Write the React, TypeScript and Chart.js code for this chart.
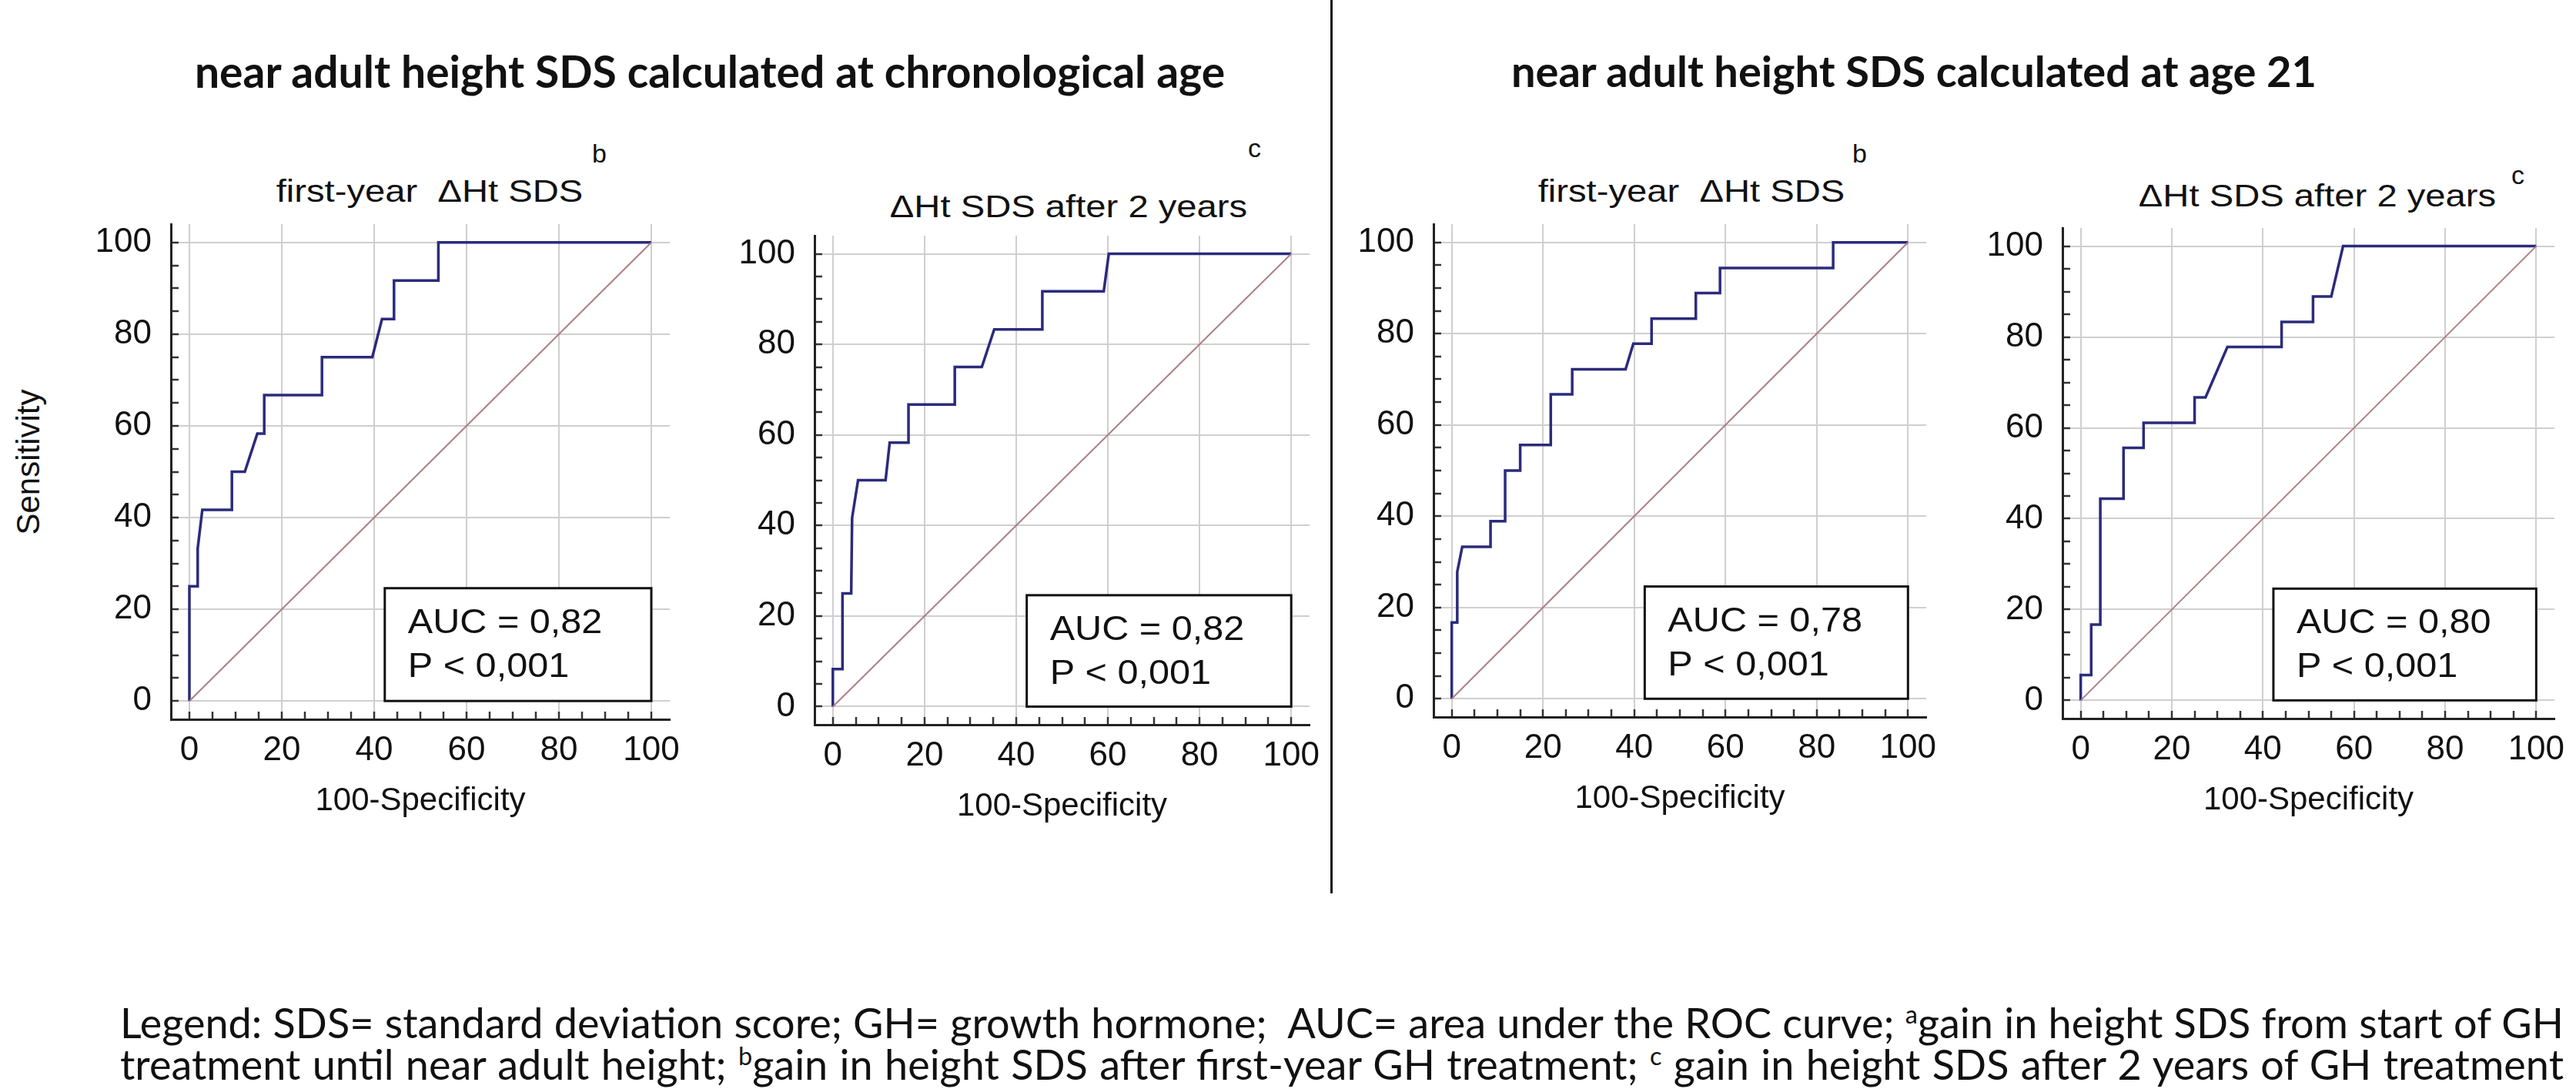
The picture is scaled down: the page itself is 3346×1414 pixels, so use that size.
import { useEffect, useRef } from "react";
import { Chart, registerables } from "chart.js";

Chart.register(...registerables);

// chance (diagonal) line
const chanceFpr = [0, 100];
const chanceTpr = [0, 100];

// near adult height SDS at chronological age - first-year ΔHt SDS
const chronoYear1Fpr = [0, 0, 1.8, 1.8, 2.8, 9.2, 9.2, 12, 14.7, 16.2, 16.2, 28.7, 28.7, 39.6, 41.7, 44.3, 44.3, 53.9, 53.9, 100];
const chronoYear1Tpr = [0, 25, 25, 33.3, 41.7, 41.7, 50, 50, 58.3, 58.3, 66.7, 66.7, 75, 75, 83.3, 83.3, 91.7, 91.7, 100, 100];

// near adult height SDS at chronological age - ΔHt SDS after 2 years
const chronoYear2Fpr = [0, 0, 2.1, 2.1, 4, 4.2, 5.5, 11.5, 12.4, 16.5, 16.5, 26.6, 26.6, 32.5, 35.2, 45.7, 45.7, 59.1, 60.2, 100];
const chronoYear2Tpr = [0, 8.3, 8.3, 25, 25, 41.7, 50, 50, 58.3, 58.3, 66.7, 66.7, 75, 75, 83.3, 83.3, 91.7, 91.7, 100, 100];

// near adult height SDS at age 21 - first-year ΔHt SDS
const age21Year1Fpr = [0, 0, 1.2, 1.2, 2.3, 8.5, 8.5, 11.7, 11.7, 15, 15, 21.7, 21.7, 26.4, 26.4, 38.1, 39.8, 43.8, 43.8, 53.5, 53.5, 58.8, 58.8, 83.6, 83.6, 100];
const age21Year1Tpr = [0, 16.7, 16.7, 27.8, 33.3, 33.3, 38.9, 38.9, 50, 50, 55.6, 55.6, 66.7, 66.7, 72.2, 72.2, 77.8, 77.8, 83.3, 83.3, 88.9, 88.9, 94.4, 94.4, 100, 100];

// near adult height SDS at age 21 - ΔHt SDS after 2 years
const age21Year2Fpr = [0, 0, 2.3, 2.3, 4.3, 4.3, 9.4, 9.4, 13.8, 13.8, 25, 25, 27.4, 32.2, 44.1, 44.1, 51, 51, 55, 57.6, 100];
const age21Year2Tpr = [0, 5.6, 5.6, 16.7, 16.7, 44.4, 44.4, 55.6, 55.6, 61.1, 61.1, 66.7, 66.7, 77.8, 77.8, 83.3, 83.3, 88.9, 88.9, 100, 100];

const aucTexts = ["AUC = 0,82", "AUC = 0,82", "AUC = 0,78", "AUC = 0,80"];
const pTexts = ["P < 0,001", "P < 0,001", "P < 0,001", "P < 0,001"];

const headings = ["near adult height SDS calculated at chronological age", "near adult height SDS calculated at age 21"];
const subtitles = ["first-year  ΔHt SDS", "ΔHt SDS after 2 years", "first-year  ΔHt SDS", "ΔHt SDS after 2 years"];
const subtitleMarks = ["b", "c", "b", "c"];
const xTitle = "100-Specificity";
const yTitle = "Sensitivity";

const CHART_FONT = "'Liberation Sans', Arial, sans-serif";
const TEXT_FONT = "Lato, 'Open Sans', sans-serif";

// layout of each panel (pixel position of x=0 / y=100 and px per unit)
const panels = [
  { fpr: chronoYear1Fpr, tpr: chronoYear1Tpr, x0: 246, y100: 315, ux: 6.0, uy: 5.95 },
  { fpr: chronoYear2Fpr, tpr: chronoYear2Tpr, x0: 1082, y100: 330, ux: 5.95, uy: 5.88 },
  { fpr: age21Year1Fpr, tpr: age21Year1Tpr, x0: 1886, y100: 315, ux: 5.93, uy: 5.93 },
  { fpr: age21Year2Fpr, tpr: age21Year2Tpr, x0: 2703, y100: 320, ux: 5.92, uy: 5.9 },
];

const YW = 130;
const TOPPAD = 14;
const RIGHTPAD = 25;
const XH = 132;

const toPoints = (xs: number[], ys: number[]) => xs.map((x, i) => ({ x, y: ys[i] }));

const axisCommon = (size: number) => ({
  type: "linear" as const,
  min: -4,
  max: 104,
  ticks: {
    stepSize: 5,
    includeBounds: false,
    autoSkip: false,
    maxRotation: 0,
    minRotation: 0,
    color: "#111",
    font: { family: CHART_FONT, size },
    callback: (v: any) => (Number(v) % 20 === 0 ? String(v) : ""),
  },
  grid: {
    color: (c: any) => (c.tick && c.tick.value % 20 === 0 ? "#cfcfcf" : "rgba(0,0,0,0)"),
    lineWidth: 2,
    drawTicks: true,
    tickLength: -10,
    tickColor: "#333",
    tickWidth: 2.5,
  },
  border: { display: true, color: "#222", width: 3 },
});

const RocPanel = ({ index }: { index: number }) => {
  const chartRef = useRef<HTMLCanvasElement>(null);
  const chartInstanceRef = useRef<Chart>();
  const p = panels[index];

  const chartLeft = p.x0 - 4 * p.ux;
  const chartTop = p.y100 - 4 * p.uy;
  const width = Math.round(YW + 108 * p.ux + RIGHTPAD);
  const height = Math.round(TOPPAD + 108 * p.uy + XH);

  useEffect(() => {
    if (!chartRef.current) return;
    if (chartInstanceRef.current) chartInstanceRef.current.destroy();
    const ctx = chartRef.current.getContext("2d");
    if (!ctx) return;

    const aucBox = {
      id: "aucBox",
      afterDatasetsDraw(chart: any) {
        const { ctx: c, scales } = chart;
        const l = scales.x.getPixelForValue(42.3);
        const r = scales.x.getPixelForValue(100);
        const t = scales.y.getPixelForValue(24.6);
        const b = scales.y.getPixelForValue(0);
        c.save();
        c.fillStyle = "#fff";
        c.fillRect(l, t, r - l, b - t);
        c.strokeStyle = "#111";
        c.lineWidth = 3;
        c.strokeRect(l, t, r - l, b - t);
        c.fillStyle = "#111";
        c.font = `45px ${CHART_FONT}`;
        c.textBaseline = "alphabetic";
        c.textAlign = "left";
        [aucTexts[index], pTexts[index]].forEach((txt, i) => {
          c.save();
          c.translate(l + 30, t + 58 + i * 57);
          c.scale(1.08, 1);
          c.fillText(txt, 0, 0);
          c.restore();
        });
        c.restore();
      },
    };

    chartInstanceRef.current = new Chart(ctx, {
      type: "line",
      data: {
        datasets: [
          {
            data: toPoints(chanceFpr, chanceTpr),
            borderColor: "rgba(170, 120, 125, 0.95)",
            borderWidth: 2,
            pointRadius: 0,
            fill: false,
            tension: 0,
          },
          {
            data: toPoints(p.fpr, p.tpr),
            borderColor: "#2b2b7c",
            borderWidth: 3.5,
            pointRadius: 0,
            fill: false,
            tension: 0,
            borderJoinStyle: "miter",
          },
        ],
      },
      options: {
        responsive: false,
        animation: false,
        devicePixelRatio: 1,
        layout: { padding: { top: TOPPAD, right: RIGHTPAD, left: 0, bottom: 0 } },
        plugins: { legend: { display: false }, tooltip: { enabled: false }, title: { display: false } },
        scales: {
          x: {
            ...axisCommon(44),
            position: "bottom",
            ticks: { ...axisCommon(44).ticks, padding: 24 },
            title: {
              display: true,
              text: xTitle,
              color: "#111",
              font: { family: CHART_FONT, size: 42 },
              padding: { top: 0, bottom: 0 },
            },
            afterFit: (s: any) => {
              s.height = XH;
              s.paddingLeft = 0;
              s.paddingRight = 0;
            },
          },
          y: {
            ...axisCommon(44),
            position: "left",
            ticks: { ...axisCommon(44).ticks, padding: 35 },
            afterFit: (s: any) => {
              s.width = YW;
              s.paddingTop = 0;
              s.paddingBottom = 0;
            },
          },
        },
      } as any,
      plugins: [aucBox],
    });

    return () => {
      if (chartInstanceRef.current) {
        chartInstanceRef.current.destroy();
        chartInstanceRef.current = undefined;
      }
    };
  }, [index]);

  return (
    <canvas
      ref={chartRef}
      width={width}
      height={height}
      style={{
        position: "absolute",
        left: Math.round(chartLeft - YW),
        top: Math.round(chartTop - TOPPAD),
        width,
        height,
      }}
    />
  );
};

// subtitle placement: centre x, top of line box, superscript position
const subtitlePos = [
  { cx: 558, top: 228, sx: 769, sy: 182 },
  { cx: 1388, top: 248, sx: 1621, sy: 175 },
  { cx: 2197, top: 228, sx: 2406, sy: 182 },
  { cx: 3010, top: 234, sx: 3262, sy: 210 },
];

const legendLine = {
  position: "absolute" as const,
  left: 156,
  width: 3174,
  font: `54px/1.1 ${TEXT_FONT}`,
  whiteSpace: "nowrap" as const,
  textAlign: "justify" as const,
  textAlignLast: "justify" as any,
};

const App = () => {
  return (
    <div
      style={{
        position: "absolute",
        left: 0,
        top: 0,
        width: 3346,
        height: 1414,
        background: "#fff",
        overflow: "hidden",
        color: "#111",
      }}
    >
      {/* headings */}
      <div style={{ position: "absolute", left: 922, top: 58, transform: "translateX(-50%)", whiteSpace: "nowrap", font: `bold 57px ${TEXT_FONT}` }}>
        {headings[0]}
      </div>
      <div style={{ position: "absolute", left: 2486, top: 58, transform: "translateX(-50%)", whiteSpace: "nowrap", font: `bold 56px ${TEXT_FONT}` }}>
        {headings[1]}
      </div>
      <div style={{ position: "absolute", left: 1728, top: 0, width: 3, height: 1160, background: "#111" }} />

      {subtitles.map((s, i) => (
        <div key={"st" + i}>
          <div
            style={{
              position: "absolute",
              left: subtitlePos[i].cx,
              top: subtitlePos[i].top,
              transform: "translateX(-50%) scaleX(1.18)",
              whiteSpace: "pre",
              font: `40px/1 ${CHART_FONT}`,
            }}
          >
            {s}
          </div>
          <div style={{ position: "absolute", left: subtitlePos[i].sx, top: subtitlePos[i].sy, font: `34px/1 ${CHART_FONT}` }}>
            {subtitleMarks[i]}
          </div>
        </div>
      ))}

      <div
        style={{
          position: "absolute",
          left: 37,
          top: 600,
          transform: "translate(-50%, -50%) rotate(-90deg)",
          whiteSpace: "nowrap",
          font: `42px/1 ${CHART_FONT}`,
        }}
      >
        {yTitle}
      </div>

      {panels.map((_, i) => (
        <RocPanel key={i} index={i} />
      ))}

      {/* legend */}
      <div style={{ ...legendLine, top: 1298 }}>
        Legend: SDS= standard deviation score; GH= growth hormone;&nbsp; AUC= area under the ROC curve; <sup style={{ fontSize: "0.6em" }}>a</sup>gain in height SDS from start of GH
      </div>
      <div style={{ ...legendLine, top: 1352 }}>
        treatment until near adult height; <sup style={{ fontSize: "0.6em" }}>b</sup>gain in height SDS after first-year GH treatment; <sup style={{ fontSize: "0.6em" }}>c</sup> gain in height SDS after 2 years of GH treatment
      </div>
    </div>
  );
};

export default App;
